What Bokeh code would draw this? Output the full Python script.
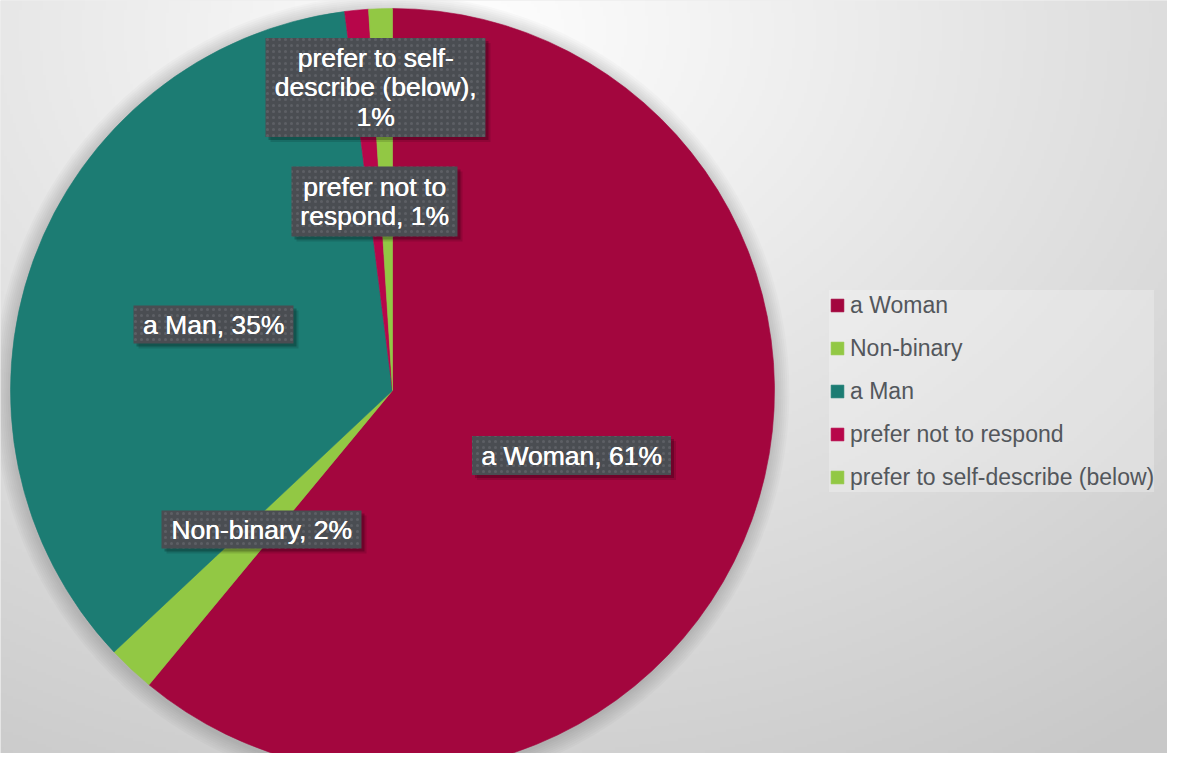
import textwrap
import numpy as np
from bokeh.plotting import figure
from bokeh.models import ColumnDataSource, Range1d
from bokeh.core.properties import value
from bokeh.embed import file_html
from bokeh.resources import INLINE

# ---------------- data ----------------
categories = ["a Woman", "Non-binary", "a Man", "prefer not to respond",
              "prefer to self-describe (below)"]
percents = [61, 2, 35, 1, 1]
slice_colors = ["#A3063E", "#92C844", "#1C7C73", "#B7064A", "#92C844"]

# ---------------- layout (picture pixels, y downward) ----------------
W, H = 1167, 753
pie_cx, pie_cy, pie_r = 392, 390, 382
label_cx = [571, 261, 213, 374, 375]
label_cy = [455, 529, 324, 201, 87]
label_w = [199, 200, 160, 166, 220]
label_h = [39, 38, 38, 70, 99]
FONT = "Liberation Sans"


def yd(Y):
    return H - np.asarray(Y, dtype=float)


p = figure(width=W, height=H, output_backend="svg", toolbar_location=None,
           x_range=Range1d(0, W), y_range=Range1d(0, H),
           min_border=0, outline_line_color=None)
p.axis.visible = False
p.grid.visible = False
p.background_fill_color = "#DDDDDD"
p.border_fill_color = "#DDDDDD"

# ---- background radial gradient ----
step = 3
xs = np.arange(0, W, step) + step / 2.0
ys = np.arange(0, H, step) + step / 2.0
X, Yd = np.meshgrid(xs, ys)
Yp = H - Yd
d = np.sqrt(((X - 480) / 1.3) ** 2 + (Yp - 30) ** 2)
v = np.clip(254 - 0.062 * d, 200, 254).astype(np.uint8)
img = np.empty(v.shape, dtype=np.uint32)
view = img.view(dtype=np.uint8).reshape((v.shape[0], v.shape[1], 4))
view[..., 0] = v
view[..., 1] = v
view[..., 2] = v
view[..., 3] = 255
p.image_rgba(image=[img], x=0, y=0, dw=W, dh=H)

# ---- pie shadow ----
for k in range(1, 9):
    p.circle(x=[pie_cx - 1], y=[float(yd(pie_cy + 2))], radius=pie_r + 2 * k,
             fill_color="black", fill_alpha=0.018, line_color=None)

# ---- pie ----
frac = np.array(percents, dtype=float) / sum(percents)
cum = np.cumsum(frac)
start = np.pi / 2 - 2 * np.pi * (cum - frac)
end = np.pi / 2 - 2 * np.pi * cum
src = ColumnDataSource(dict(category=categories, pct=percents, color=slice_colors,
                            start=start, end=end))
p.wedge(x=pie_cx, y=float(yd(pie_cy)), radius=pie_r, start_angle="start",
        end_angle="end", direction="clock", fill_color="color",
        line_color="color", line_width=0.6, legend_field="category", source=src)

# ---- data labels ----
label_texts = ["\n".join(textwrap.wrap(f"{c}, {v_}%", width=17))
               for c, v_ in zip(categories, percents)]
lx = np.array(label_cx, dtype=float)
ly = yd(label_cy)
lw = np.array(label_w, dtype=float)
lh = np.array(label_h, dtype=float)
for off, a in ((5, 0.12), (3, 0.22)):
    p.quad(left=lx - lw / 2 + off, right=lx + lw / 2 + off,
           top=ly + lh / 2 - off, bottom=ly - lh / 2 - off,
           fill_color="black", fill_alpha=a, line_color=None)
p.quad(left=lx - lw / 2, right=lx + lw / 2, top=ly + lh / 2, bottom=ly - lh / 2,
       fill_color="#4A4D52", line_color=None, hatch_pattern="dot",
       hatch_color="#73767C", hatch_scale=6, hatch_weight=1, hatch_alpha=0.45)
for dx in (0.0, 0.45):
    p.text(x=lx + dx, y=ly, text=label_texts, text_align="center",
           text_baseline="middle", text_color="white", text_font=value(FONT),
           text_font_size="26.5px", text_line_height=0.97)

# ---- legend ----
leg = p.legend[0]
leg.location = (829, 261)
leg.glyph_width = 16
leg.glyph_height = 16
leg.label_height = 30
leg.spacing = 13
leg.padding = 11
leg.margin = 0
leg.label_standoff = 5
leg.label_text_font = FONT
leg.label_text_font_size = "23px"
leg.label_text_color = "#53575C"
leg.background_fill_color = "white"
leg.background_fill_alpha = 0.25
leg.border_line_color = None

open("out.html", "w").write(file_html(p, INLINE))
